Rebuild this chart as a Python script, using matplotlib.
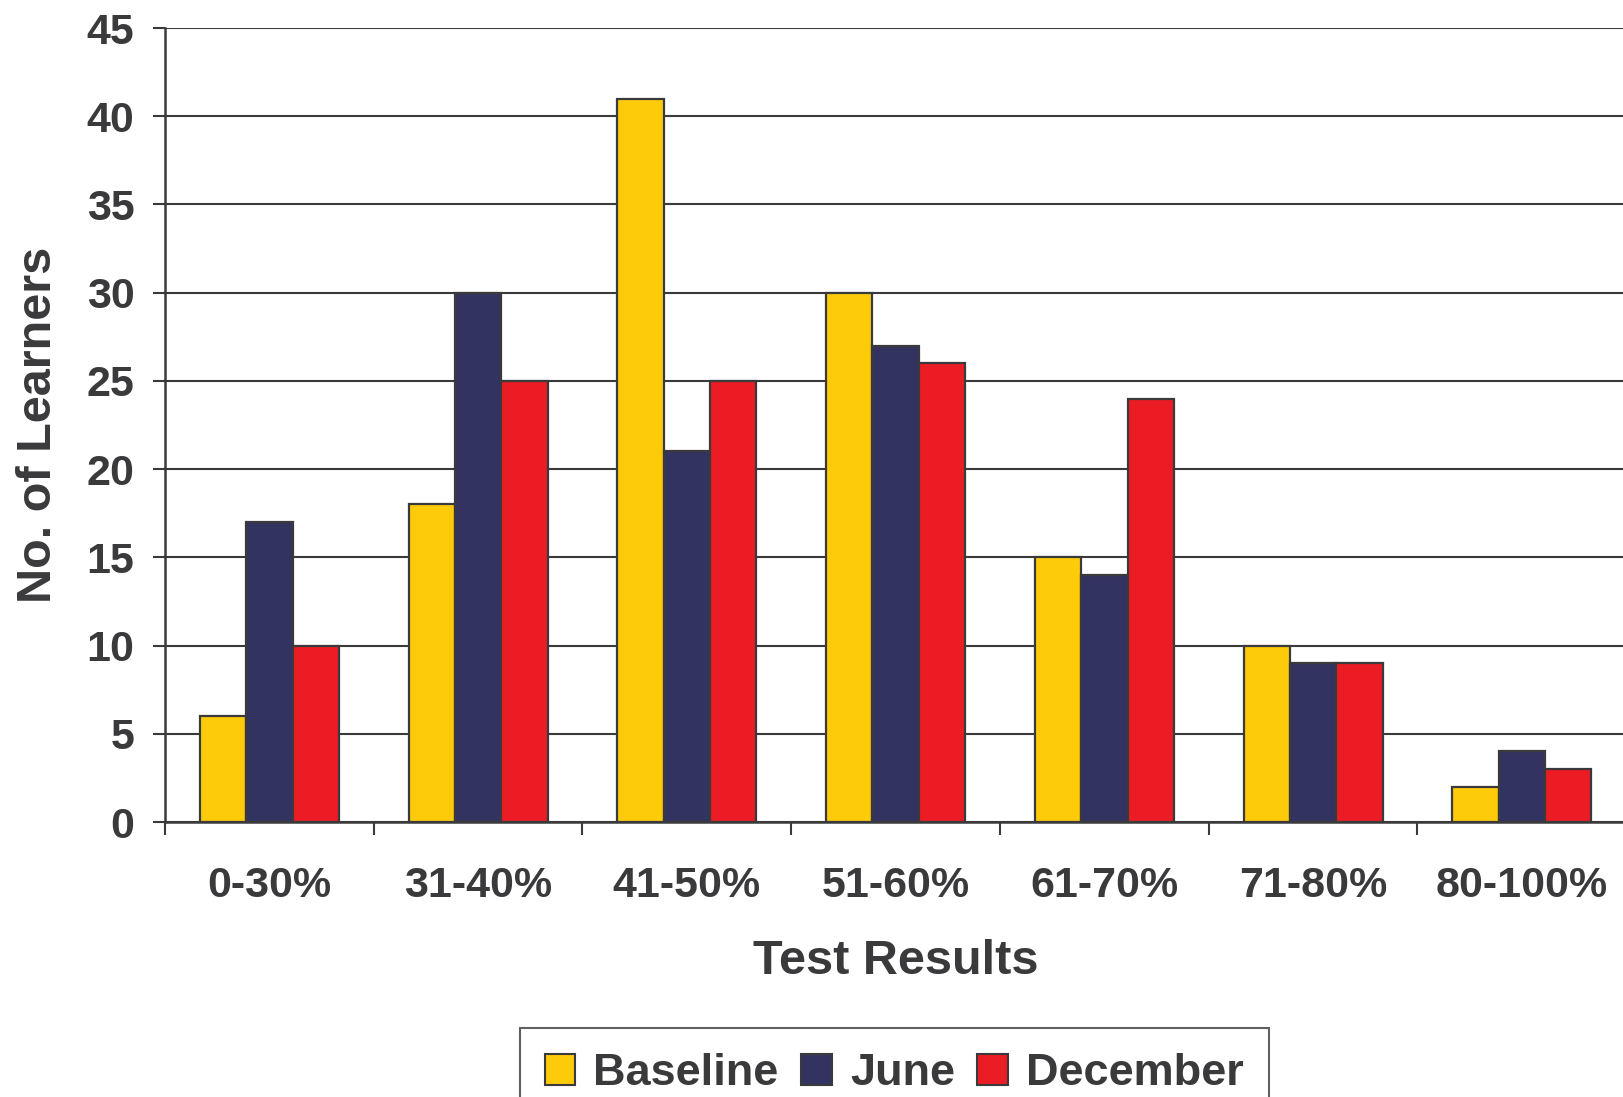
import matplotlib
matplotlib.use("Agg")
import matplotlib.pyplot as plt
import numpy as np
from matplotlib.patches import Patch

categories = ["0-30%", "31-40%", "41-50%", "51-60%", "61-70%", "71-80%", "80-100%"]
baseline = [6, 18, 41, 30, 15, 10, 2]
june = [17, 30, 21, 27, 14, 9, 4]
december = [10, 25, 25, 26, 24, 9, 3]
series_names = ["Baseline", "June", "December"]
y_ticks = [0, 5, 10, 15, 20, 25, 30, 35, 40, 45]

colors = ["#FDCB0A", "#333361", "#EC1C24"]
edge = "#3a3a3c"
text_color = "#3a3a3c"

plt.rcParams["font.family"] = ["Liberation Sans", "DejaVu Sans"]
plt.rcParams["font.weight"] = "bold"

fig = plt.figure(figsize=(16.23, 10.97), dpi=100)
ax = fig.add_axes([165 / 1623, 1 - 822 / 1097, 1 - 165 / 1623 + 0.002, (822 - 28) / 1097])

x = np.arange(len(categories))
w = 0.222
for i, (vals, c) in enumerate(zip([baseline, june, december], colors)):
    ax.bar(x + (i - 1) * w, vals, width=w, color=c, edgecolor=edge, linewidth=1.6, zorder=3)

ax.set_xlim(-0.5, len(categories) - 0.5)
ax.set_ylim(0, 45)
ax.set_yticks(y_ticks)
ax.yaxis.grid(True, color=edge, linewidth=1.5, zorder=0)
ax.set_axisbelow(True)

for s in ["top", "right"]:
    ax.spines[s].set_visible(False)
for s in ["left", "bottom"]:
    ax.spines[s].set_color(edge)
    ax.spines[s].set_linewidth(1.8)

ax.set_xticks(x)
ax.set_xticklabels(categories)
ax.set_xticks(np.arange(len(categories)) - 0.5, minor=True)
ax.tick_params(axis="x", which="major", length=0, pad=32, labelsize=31, labelcolor=text_color)
ax.tick_params(axis="x", which="minor", length=9, width=1.5, color=edge, direction="out")
ax.tick_params(axis="y", length=9, width=1.5, color=edge, pad=13, labelsize=31, labelcolor=text_color)
for lab in ax.get_xticklabels() + ax.get_yticklabels():
    lab.set_fontweight("bold")

ax.set_xlabel("Test Results", fontsize=35, fontweight="bold", color=text_color, va="center")
ax.xaxis.set_label_coords(0.5, -0.176)
ax.set_ylabel("No. of Learners", fontsize=35, fontweight="bold", color=text_color, va="center")
ax.yaxis.set_label_coords(-0.0865, 0.5)

handles = [Patch(facecolor=c, edgecolor=edge, linewidth=1.5) for c in colors]
leg = fig.legend(handles, series_names, loc="upper center", bbox_to_anchor=(0.551, 1 - 1028 / 1097),
                 ncol=3, frameon=True, fancybox=False, fontsize=32.5, handlelength=0.68,
                 handleheight=0.68, handletextpad=0.4, columnspacing=0.5, borderpad=0.55,
                 borderaxespad=0)
leg.get_frame().set_edgecolor(edge)
leg.get_frame().set_linewidth(1.5)
for t in leg.get_texts():
    t.set_color(text_color)
    t.set_fontweight("bold")

fig.savefig("out.png", dpi=100)
